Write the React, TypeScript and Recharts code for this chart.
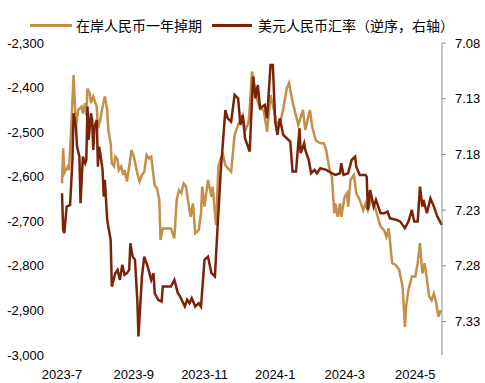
import React from 'react';
import { LineChart, Line, XAxis, YAxis } from 'recharts';

// x positions are days since 2023-07-01
const tickDays = [0, 62, 123, 184, 244, 305];
const tickLabels = ['2023-7', '2023-9', '2023-11', '2024-1', '2024-3', '2024-5'];

const leftTicks = [-2300, -2400, -2500, -2600, -2700, -2800, -2900, -3000];
const rightTicks = [7.08, 7.13, 7.18, 7.23, 7.28, 7.33];

// 在岸人民币一年掉期 (left axis)
const swapDays = [
  0, 1, 2, 5, 6, 8, 10, 12, 14, 17,
  18, 20, 21, 22, 24, 25, 27, 28, 30, 31,
  33, 35, 37, 39, 40, 42, 43, 45, 46, 48,
  49, 51, 53, 54, 56, 58, 60, 62, 65, 67,
  69, 71, 73, 75, 77, 80, 82, 84, 85, 87,
  90, 94, 97, 99, 101, 103, 105, 107, 111, 113,
  115, 118, 120, 121, 123, 126, 129, 130, 132, 133,
  135, 137, 139, 141, 143, 146, 149, 152, 156, 158,
  161, 162, 164, 168, 171, 174, 177, 180, 182, 185,
  188, 191, 194, 196, 199, 204, 208, 210, 214, 216,
  219, 223, 226, 228, 231, 233, 235, 236, 238, 240,
  241, 244, 246, 247, 249, 252, 254, 257, 260, 262,
  264, 267, 270, 275, 278, 280, 282, 285, 288, 291,
  294, 296, 297, 299, 302, 305, 307, 309, 311, 313,
  317, 319, 321, 323, 325, 327,
];
const swapValues = [
  -2615, -2536, -2592, -2577, -2585, -2488, -2372, -2488, -2450, -2443,
  -2458, -2435, -2462, -2402, -2413, -2435, -2420, -2428, -2443, -2491,
  -2473, -2443, -2420, -2450, -2495, -2525, -2570, -2577, -2555, -2562,
  -2585, -2577, -2596, -2585, -2611, -2577, -2540, -2555, -2592, -2611,
  -2596, -2589, -2551, -2559, -2555, -2619, -2626, -2652, -2742, -2716,
  -2716, -2716, -2738, -2652, -2630, -2637, -2615, -2622, -2690, -2660,
  -2727, -2720, -2682, -2622, -2667, -2607, -2645, -2622, -2682, -2708,
  -2577, -2559, -2551, -2574, -2581, -2589, -2506, -2484, -2462, -2499,
  -2477, -2447, -2364, -2424, -2447, -2450, -2499, -2417, -2439, -2477,
  -2484, -2447, -2402, -2390, -2432, -2484, -2450, -2495, -2450, -2488,
  -2518, -2525, -2525, -2540, -2585, -2600, -2682, -2660, -2690, -2660,
  -2690, -2645, -2637, -2667, -2607, -2596, -2637, -2652, -2675, -2660,
  -2675, -2650, -2667, -2712, -2720, -2735, -2716, -2794, -2798, -2809,
  -2847, -2937, -2892, -2854, -2824, -2824, -2794, -2749, -2817, -2794,
  -2869, -2877, -2862, -2884, -2914, -2899,
];

// 美元人民币汇率 (right axis, reversed)
const fxDays = [
  0, 1, 2, 4, 7, 9, 10, 12, 13, 15,
  16, 18, 20, 21, 22, 23, 25, 26, 27, 28,
  30, 31, 32, 33, 35, 36, 37, 39, 40, 42,
  43, 46, 48, 50, 52, 54, 56, 58, 59, 61,
  63, 65, 66, 69, 71, 74, 77, 79, 80, 83,
  86, 87, 94, 97, 100, 102, 106, 108, 110, 112,
  115, 118, 120, 123, 126, 129, 132, 134, 137, 141,
  143, 146, 149, 152, 154, 156, 158, 160, 162, 163,
  165, 167, 169, 171, 175, 177, 180, 182, 184, 186,
  188, 191, 194, 197, 199, 202, 205, 206, 209, 210,
  213, 215, 218, 220, 223, 228, 233, 236, 240, 241,
  243, 247, 250, 253, 254, 257, 262, 263, 264, 266,
  269, 271, 275, 278, 281, 283, 289, 292, 296, 299,
  302, 304, 307, 309, 311, 312, 315, 318, 321, 324,
  327, 328,
];
const fxValues = [
  7.2148, 7.2477, 7.2507, 7.2268, 7.2253, 7.185, 7.1431, 7.1551, 7.173, 7.182,
  7.2238, 7.182, 7.1879, 7.185, 7.1371, 7.167, 7.1431, 7.1491, 7.176, 7.1551,
  7.1491, 7.191, 7.173, 7.1789, 7.1939, 7.2178, 7.2029, 7.2388, 7.2448, 7.2567,
  7.2986, 7.2866, 7.2836, 7.2926, 7.2791, 7.2881, 7.2866, 7.2836, 7.2597, 7.2717,
  7.2746, 7.3105, 7.3434, 7.2896, 7.2717, 7.2807, 7.2926, 7.2866, 7.3045, 7.3105,
  7.312, 7.2986, 7.2986, 7.2926, 7.3045, 7.3076, 7.3165, 7.3105, 7.3135, 7.309,
  7.3165, 7.3135, 7.3165, 7.2746, 7.2717, 7.2866, 7.2896, 7.2507, 7.1954, 7.1401,
  7.1476, 7.1506, 7.1266, 7.1296, 7.1536, 7.1446, 7.1655, 7.1715, 7.1775, 7.1536,
  7.1102, 7.1296, 7.1177, 7.1386, 7.1356, 7.1476, 7.0997, 7.0997, 7.1506, 7.1625,
  7.1476, 7.1625, 7.1655, 7.1685, 7.1954, 7.1954, 7.1565, 7.1789, 7.17, 7.176,
  7.185, 7.1969, 7.1939, 7.1969, 7.1924, 7.1939, 7.1969, 7.1984, 7.1969, 7.1879,
  7.1984, 7.1969, 7.185, 7.182, 7.191, 7.1984, 7.1984, 7.1999, 7.2298, 7.2119,
  7.2268, 7.2208, 7.2328, 7.2328, 7.2313, 7.2373, 7.2388, 7.2403, 7.2462, 7.2403,
  7.2298, 7.2403, 7.2403, 7.2089, 7.2268, 7.2208, 7.2328, 7.2193, 7.2268, 7.2358,
  7.2417, 7.2433,
];

const SWAP_COLOR = '#C48F48';
const FX_COLOR = '#7A2309';

const swapData = swapDays.map((d, i) => ({ d, v: swapValues[i] }));
const fxData = fxDays.map((d, i) => ({ d, v: fxValues[i] }));

const fmtThousands = (v: number) => v.toLocaleString('en-US');

export default function App() {
  return (
    <div
      style={{
        position: 'absolute',
        left: 0,
        top: 0,
        width: 485,
        height: 383,
        background: '#fff',
        fontFamily: '"Liberation Sans", Arial, "Noto Sans CJK SC", sans-serif',
      }}
    >
      {/* legend */}
      <div
        style={{
          position: 'absolute',
          left: 30,
          top: 16,
          height: 18,
          display: 'flex',
          alignItems: 'center',
          fontSize: 14,
          color: '#000',
          fontFamily: '"Noto Sans CJK SC", sans-serif',
          whiteSpace: 'nowrap',
        }}
      >
        <span style={{ width: 42, height: 3, background: SWAP_COLOR, marginRight: 4 }} />
        <span>在岸人民币一年掉期</span>
        <span style={{ width: 40, height: 3, background: FX_COLOR, marginLeft: 10, marginRight: 6 }} />
        <span>美元人民币汇率（逆序，右轴）</span>
      </div>

      <LineChart width={485} height={383} margin={{ top: 43, right: 0, bottom: 0, left: 0 }}>
        <XAxis
          xAxisId="top"
          orientation="top"
          type="number"
          dataKey="d"
          domain={[0, 328]}
          ticks={tickDays}
          tick={false}
          tickSize={4}
          mirror
          height={0}
          axisLine={{ stroke: '#d9d9d9' }}
          tickLine={{ stroke: '#d9d9d9' }}
        />
        <XAxis
          xAxisId="bottom"
          type="number"
          dataKey="d"
          domain={[0, 328]}
          ticks={tickDays}
          interval={0}
          tickFormatter={(d: number) => tickLabels[tickDays.indexOf(d)]}
          height={28}
          axisLine={false}
          tickLine={false}
          tickMargin={9}
          tick={{ fontSize: 13, fill: '#000' }}
        />
        <YAxis
          yAxisId="left"
          width={62}
          domain={[-3000, -2300]}
          ticks={leftTicks}
          interval={0}
          tickFormatter={fmtThousands}
          axisLine={false}
          tickLine={false}
          tickMargin={12}
          tick={{ fontSize: 13, fill: '#000' }}
        />
        <YAxis
          yAxisId="right"
          orientation="right"
          width={43}
          reversed
          domain={[7.08, 7.36]}
          ticks={rightTicks}
          interval={0}
          tickFormatter={(v: number) => v.toFixed(2)}
          axisLine={{ stroke: '#8c8c8c' }}
          tickLine={{ stroke: '#8c8c8c' }}
          tickSize={4}
          tickMargin={9}
          tick={{ fontSize: 13, fill: '#000' }}
        />
        <Line
          xAxisId="bottom"
          yAxisId="left"
          data={swapData}
          dataKey="v"
          type="linear"
          stroke={SWAP_COLOR}
          strokeWidth={2.5}
          dot={false}
          isAnimationActive={false}
        />
        <Line
          xAxisId="bottom"
          yAxisId="right"
          data={fxData}
          dataKey="v"
          type="linear"
          stroke={FX_COLOR}
          strokeWidth={2.5}
          dot={false}
          isAnimationActive={false}
        />
      </LineChart>
    </div>
  );
}
